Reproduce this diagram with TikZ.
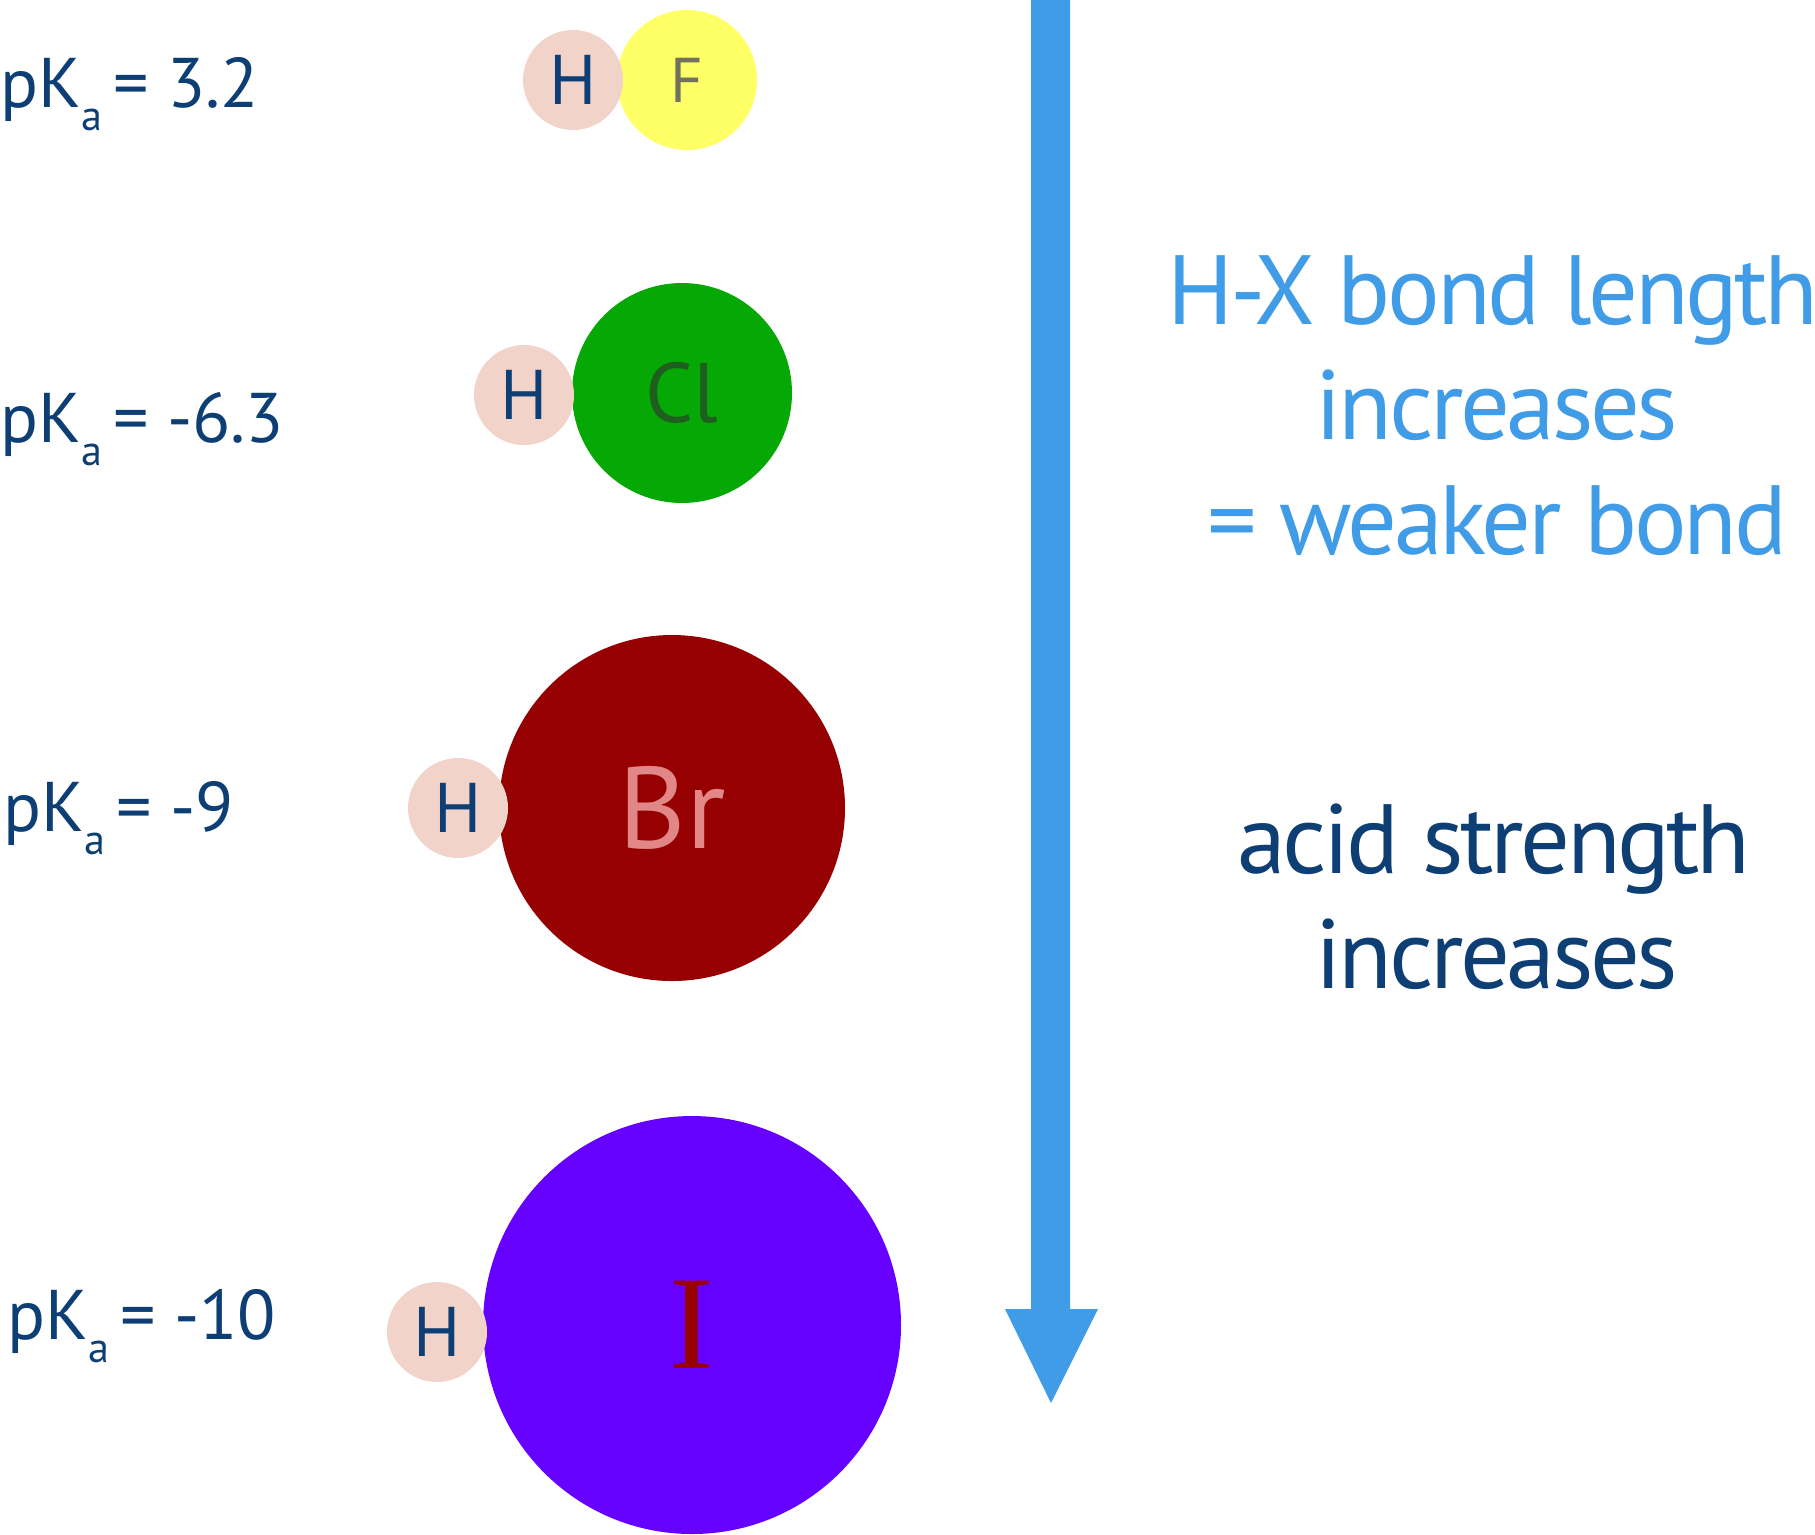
\documentclass[tikz,border=0pt]{standalone}
\usepackage{fontspec}
\setmainfont{PT Sans}
\newfontfamily\trendfont[LetterSpace=-3.5]{PT Sans}
\newfontfamily\iodfont{Liberation Serif}
\usetikzlibrary{shapes.geometric, arrows, positioning, calc}

\definecolor{labelblue}{HTML}{0E3F74}
\definecolor{bondblue}{HTML}{419CE8}
\definecolor{hpink}{HTML}{F2D3C9}
\definecolor{fyellow}{HTML}{FFFF66}
\definecolor{fgrey}{HTML}{72725C}
\definecolor{clgreen}{HTML}{05A805}
\definecolor{cldark}{HTML}{1E5E1E}
\definecolor{brred}{HTML}{960000}
\definecolor{brpink}{HTML}{E28787}
\definecolor{iviolet}{HTML}{6600FF}
\definecolor{idark}{HTML}{990000}

\newcommand{\pKa}{pK\raisebox{-0.33em}{\fontsize{12}{12}\selectfont a}\hspace{0.15em}}

\begin{document}
\begin{tikzpicture}[x=0.1mm, y=-0.1mm,
  atom/.style={circle, inner sep=0pt},
  atomH/.style={atom, fill=hpink, minimum size=10mm, text=labelblue,
    font=\fontsize{20}{20}\selectfont},
  pka/.style={anchor=base west, inner sep=0pt, text=labelblue,
    font=\fontsize{20}{20}\selectfont},
  trend/.style={anchor=base, font=\trendfont\fontsize{28}{28}\selectfont}]
\useasboundingbox (0,0) rectangle (1815,1534);

% arrow
\fill[bondblue] (1031,0) -- (1070,0) -- (1070,1309) -- (1098,1309)
  -- (1051,1403) -- (1005,1309) -- (1031,1309) -- cycle;

% HF
\node[atom, fill=fyellow, minimum size=14mm, text=fgrey,
  font=\fontsize{18}{18}\selectfont] (xF) at (687,80) {F};
\node[atomH] (hF) at (573,80) {H};
\node[pka] (kF) at (0,107) {\pKa = 3.2};

% HCl
\node[atom, fill=clgreen, minimum size=22mm, text=cldark,
  font=\fontsize{24}{24}\selectfont] (xCl) at (682,393) {Cl};
\node[atomH] (hCl) at (524,395) {H};
\node[pka] (kCl) at (0,442) {\pKa = -6.3};

% HBr
\node[atom, fill=brred, minimum size=34.6mm, text=brpink,
  font=\fontsize{33}{33}\selectfont] (xBr) at (672,808) {Br};
\node[atomH] (hBr) at (458,808) {H};
\node[pka] (kBr) at (3,831) {\pKa = -9};

% HI
\node[atom, fill=iviolet, minimum size=41.8mm, text=idark,
  font=\iodfont\fontsize{38}{38}\selectfont] (xI) at (692,1325) {I\hspace{1.2mm}};
\node[atomH] (hI) at (437,1332) {H};
\node[pka] (kI) at (7,1339) {\pKa = -10};

% trend texts
\node[trend, text=bondblue] (len1) at (1493,324) {H-X bond length};
\node[trend, text=bondblue] (len2) at (1497,439) {increases};
\node[trend, text=bondblue] (len3) at (1497,554) {= weaker bond};
\node[trend, text=labelblue] (acid1) at (1494,873) {acid strength};
\node[trend, text=labelblue] (acid2) at (1497,988) {increases};
\end{tikzpicture}
\end{document}
